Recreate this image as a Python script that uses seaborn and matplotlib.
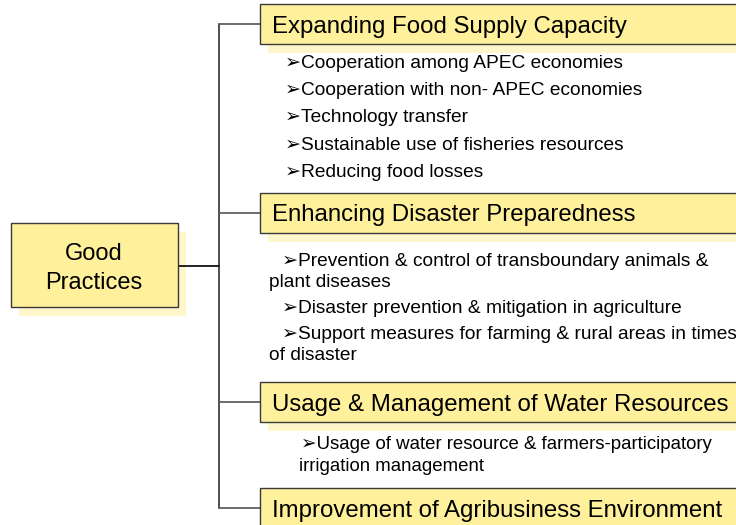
import matplotlib
matplotlib.use("Agg")
import matplotlib.pyplot as plt
import seaborn as sns
from matplotlib.patches import Rectangle

# ---- content ----
root_lines = ["Good", "Practices"]
headings = [
    "Expanding Food Supply Capacity",
    "Enhancing Disaster Preparedness",
    "Usage & Management of Water Resources",
    "Improvement of Agribusiness Environment",
]
bullets_food = [
    ["Cooperation among APEC economies"],
    ["Cooperation with non- APEC economies"],
    ["Technology transfer"],
    ["Sustainable use of fisheries resources"],
    ["Reducing food losses"],
]
bullets_disaster = [
    ["Prevention & control of transboundary animals &", "plant diseases"],
    ["Disaster prevention & mitigation in agriculture"],
    ["Support measures for farming & rural areas in times", "of disaster"],
]
bullets_water = [
    ["Usage of water resource & farmers-participatory", "irrigation management"],
]
bullets_agri = []
sections = [bullets_food, bullets_disaster, bullets_water, bullets_agri]

# ---- layout (pixel space) ----
W, H = 736, 525
heading_centers = [24, 213, 402, 508]
box_h = 40
box_left = 260
tree_x = 219
root_box = (11, 223, 167, 84)
shadow_off = 8
section_layout = [
    dict(x_bullet=285, x_cont=266, y0=68, step=27.2, cont_step=21, fs=13.75),
    dict(x_bullet=282, x_cont=269, y0=266, step=26, cont_step=21, fs=13.75),
    dict(x_bullet=301, x_cont=299, y0=449, step=26, cont_step=22, fs=13.4),
    dict(x_bullet=286, x_cont=266, y0=0, step=26, cont_step=21, fs=13.4),
]

FILL = "#FFF09C"
SHADOW = "#FFF6CC"
EDGE = "#3a3a3a"
HEAD_FS = 17.25

sns.set_theme(style="white")
plt.rcParams["font.family"] = ["Liberation Sans", "DejaVu Sans"]

fig = plt.figure(figsize=(W / 100, H / 100), dpi=100)
ax = fig.add_axes([0, 0, 1, 1])
ax.set_xlim(0, W)
ax.set_ylim(H, 0)
ax.axis("off")

# tree lines
line_kw = dict(sort=False, estimator=None, lw=1.3, zorder=2.5)
sns.lineplot(x=[tree_x, tree_x], y=[heading_centers[0], heading_centers[-1]],
             ax=ax, color="#404040", **line_kw)
for yc in heading_centers:
    sns.lineplot(x=[tree_x, box_left], y=[yc, yc], ax=ax, color="#606060", **line_kw)
rx, ry, rw, rh = root_box
sns.lineplot(x=[rx + rw, tree_x], y=[ry + rh / 2 + 0.5] * 2, ax=ax, color="#111111",
             **line_kw)

# root box
ax.add_patch(Rectangle((rx + shadow_off, ry + shadow_off + 1), rw, rh,
                       facecolor=SHADOW, edgecolor="none", zorder=2))
ax.add_patch(Rectangle((rx, ry), rw, rh, facecolor=FILL, edgecolor=EDGE,
                       lw=1.0, zorder=3))
root_baselines = [260, 289]
for txt, yb in zip(root_lines, root_baselines):
    ax.text(rx + rw / 2 - 0.5, yb, txt, ha="center", va="baseline",
            fontsize=17, color="black", zorder=4)

# heading boxes
for title, yc in zip(headings, heading_centers):
    top = yc - box_h / 2
    ax.add_patch(Rectangle((box_left + shadow_off, top + shadow_off + 1), 600, box_h,
                           facecolor=SHADOW, edgecolor="none", zorder=2))
    ax.add_patch(Rectangle((box_left, top), 600, box_h, facecolor=FILL,
                           edgecolor=EDGE, lw=1.0, zorder=3))
    ax.text(box_left + 12, yc + 8.5, title, ha="left", va="baseline",
            fontsize=HEAD_FS, color="black", zorder=4)

# bullets
for items, lay in zip(sections, section_layout):
    y = lay["y0"]
    for lines in items:
        ax.text(lay["x_bullet"], y, "\u27a2" + lines[0], ha="left", va="baseline",
                fontsize=lay["fs"], color="black", zorder=4)
        yy = y
        for cont in lines[1:]:
            yy += lay["cont_step"]
            ax.text(lay["x_cont"], yy, cont, ha="left", va="baseline",
                    fontsize=lay["fs"], color="black", zorder=4)
        y = yy + lay["step"]

fig.savefig("out.png", dpi=100, facecolor="white")
